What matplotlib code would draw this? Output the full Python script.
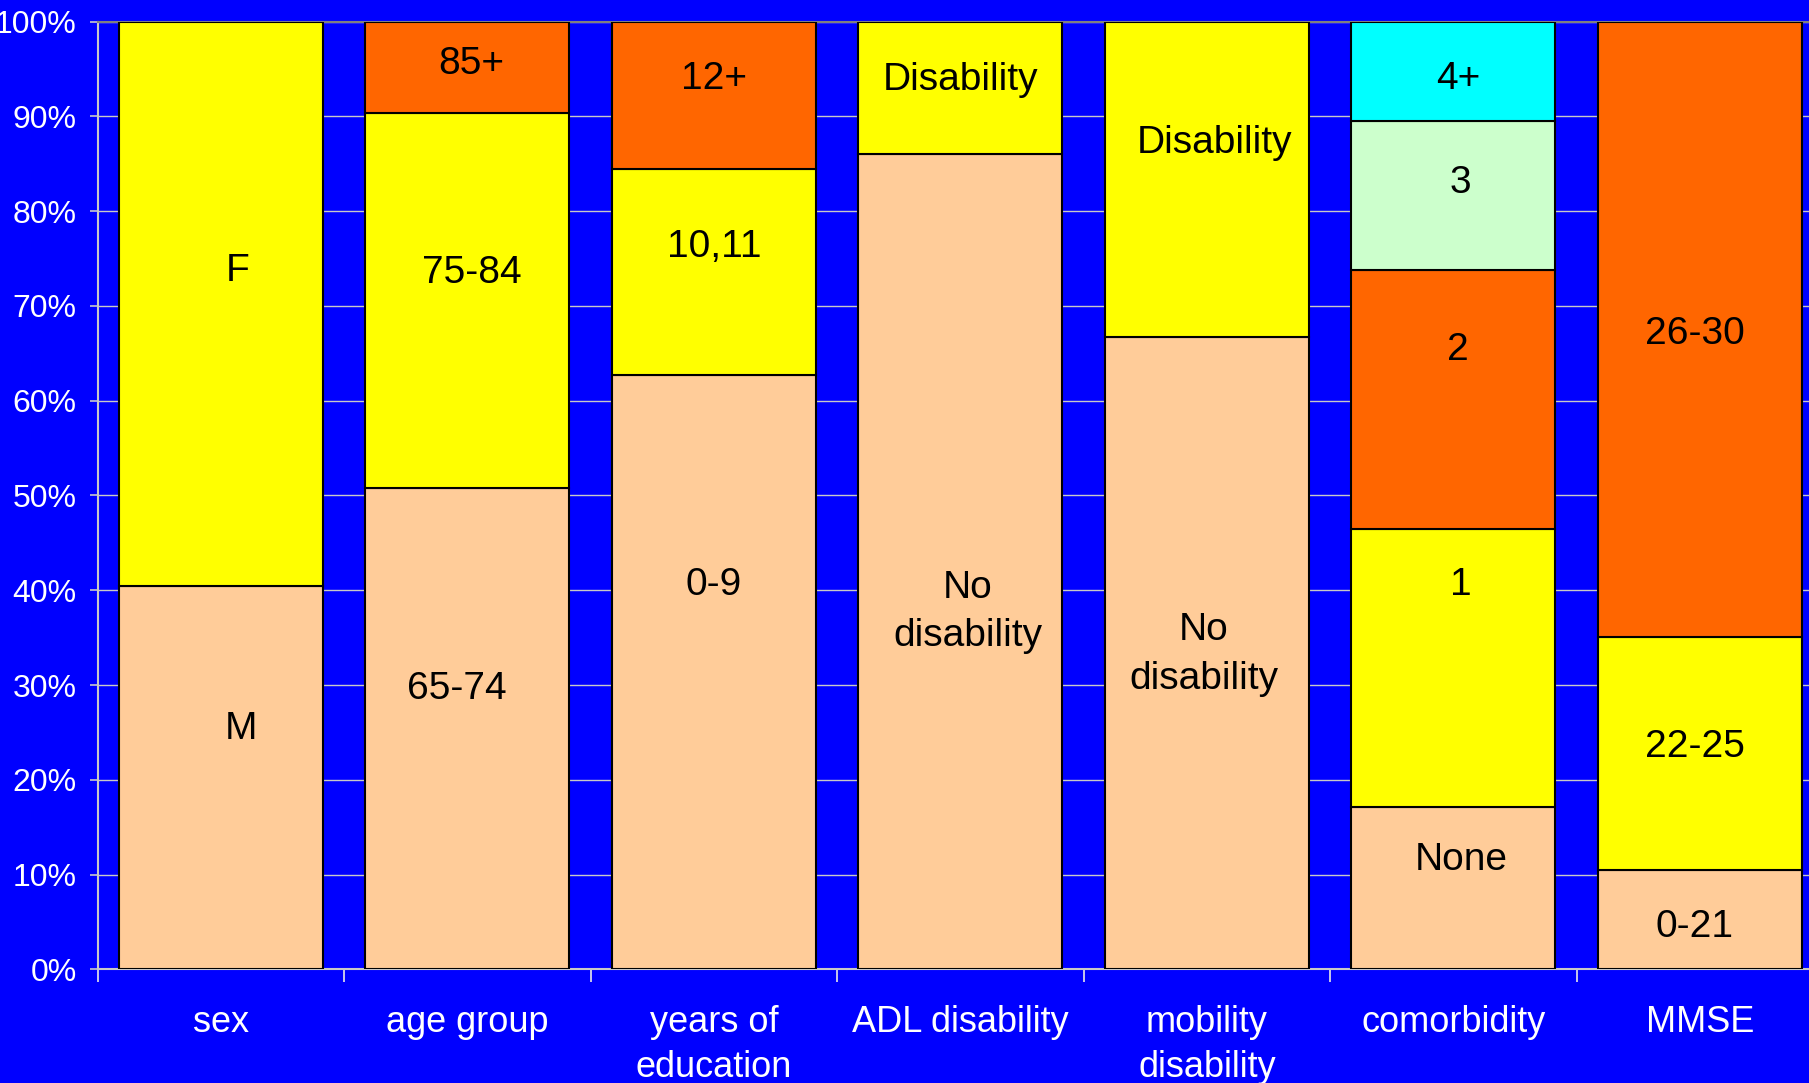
#!/usr/bin/env python3

import numpy as np
import matplotlib
matplotlib.use("Agg")
import matplotlib.pyplot as plt

plt.rcParams["font.family"] = ["Liberation Sans", "DejaVu Sans"]

# stacked share (%) of each characteristic, bottom segment first
categories = ["sex", "age group", "years of\neducation", "ADL disability",
              "mobility\ndisability", "comorbidity", "MMSE"]

sex_labels = ["M", "F"]
sex_pct = [40.4, 59.6]
age_labels = ["65-74", "75-84", "85+"]
age_pct = [50.8, 39.6, 9.6]
edu_labels = ["0-9", "10,11", "12+"]
edu_pct = [62.7, 21.8, 15.5]
adl_labels = ["No\ndisability", "Disability"]
adl_pct = [86.0, 14.0]
mob_labels = ["No\ndisability", "Disability"]
mob_pct = [66.7, 33.3]
comorb_labels = ["None", "1", "2", "3", "4+"]
comorb_pct = [17.1, 29.4, 27.3, 15.7, 10.5]
mmse_labels = ["0-21", "22-25", "26-30"]
mmse_pct = [10.5, 24.6, 64.9]

groups = [
    (sex_labels, sex_pct),
    (age_labels, age_pct),
    (edu_labels, edu_pct),
    (adl_labels, adl_pct),
    (mob_labels, mob_pct),
    (comorb_labels, comorb_pct),
    (mmse_labels, mmse_pct),
]

# where each segment's label sits (y in %, x shift in category units)
label_y = [
    [25.4, 73.7],
    [29.6, 73.5, 95.5],
    [40.6, 76.2, 94.0],
    [37.7, 93.9],
    [33.2, 87.2],
    [11.5, 40.6, 65.4, 83.0, 94.0],
    [4.5, 23.5, 67.0],
]
label_dx = [
    [0.08, 0.066],
    [-0.045, 0.016, 0.016],
    [0.0, 0.0, 0.0],
    [0.03, 0.0],
    [-0.014, 0.03],
    [0.03, 0.03, 0.02, 0.03, 0.02],
    [-0.02, -0.02, -0.02],
]

seg_colors = ["#FFCC99", "#FFFF00", "#FF6600", "#CCFFCC", "#00FFFF"]
bg = "#0000FF"

if __name__ == "__main__":
    fig = plt.figure(figsize=(18.09, 10.83), dpi=100)
    fig.patch.set_facecolor(bg)
    ax = fig.add_axes([0.05401, 0.10499, 0.9538, 0.87497])
    ax.set_facecolor(bg)

    for i, (labels, pct) in enumerate(groups):
        bottom = 0
        for j, v in enumerate(pct):
            ax.bar(i, v, width=0.828, bottom=bottom, color=seg_colors[j],
                   edgecolor="black", linewidth=1.5, zorder=3)
            bottom += v
        for j, lab in enumerate(labels):
            ax.text(i + label_dx[i][j], label_y[i][j], lab, ha="center",
                    va="center", fontsize=28, color="black",
                    linespacing=1.45, zorder=4)

    ax.set_xlim(-0.5, 6.5)
    ax.set_ylim(0, 100)

    ax.set_yticks(range(0, 101, 10))
    ax.set_yticklabels([f"{v}%" for v in range(0, 101, 10)])
    ax.yaxis.grid(True, color="#C8C8C8", linewidth=1.0, zorder=0)
    ax.set_axisbelow(True)

    ax.set_xticks(range(len(categories)))
    ax.set_xticklabels(categories)
    ax.set_xticks(np.arange(-0.5, 6.0, 1.0), minor=True)
    for t in ax.get_xticklabels():
        t.set_linespacing(1.35)

    ax.tick_params(axis="x", which="major", length=0, pad=26,
                   labelsize=26, labelcolor="white")
    ax.tick_params(axis="x", which="minor", length=9, width=1.2,
                   color="#E8E8E8", direction="out")
    ax.tick_params(axis="y", length=6, width=1.2, color="#C8C8C8",
                   labelsize=23, labelcolor="white", pad=9)

    ax.spines["left"].set_color("#C8C8C8")
    ax.spines["left"].set_linewidth(1.5)
    ax.spines["bottom"].set_color("#C8C8C8")
    ax.spines["bottom"].set_linewidth(1.5)
    ax.spines["top"].set_color("#808080")
    ax.spines["top"].set_linewidth(1.5)
    ax.spines["right"].set_visible(False)

    fig.savefig("out.png", dpi=100, facecolor=fig.get_facecolor())
